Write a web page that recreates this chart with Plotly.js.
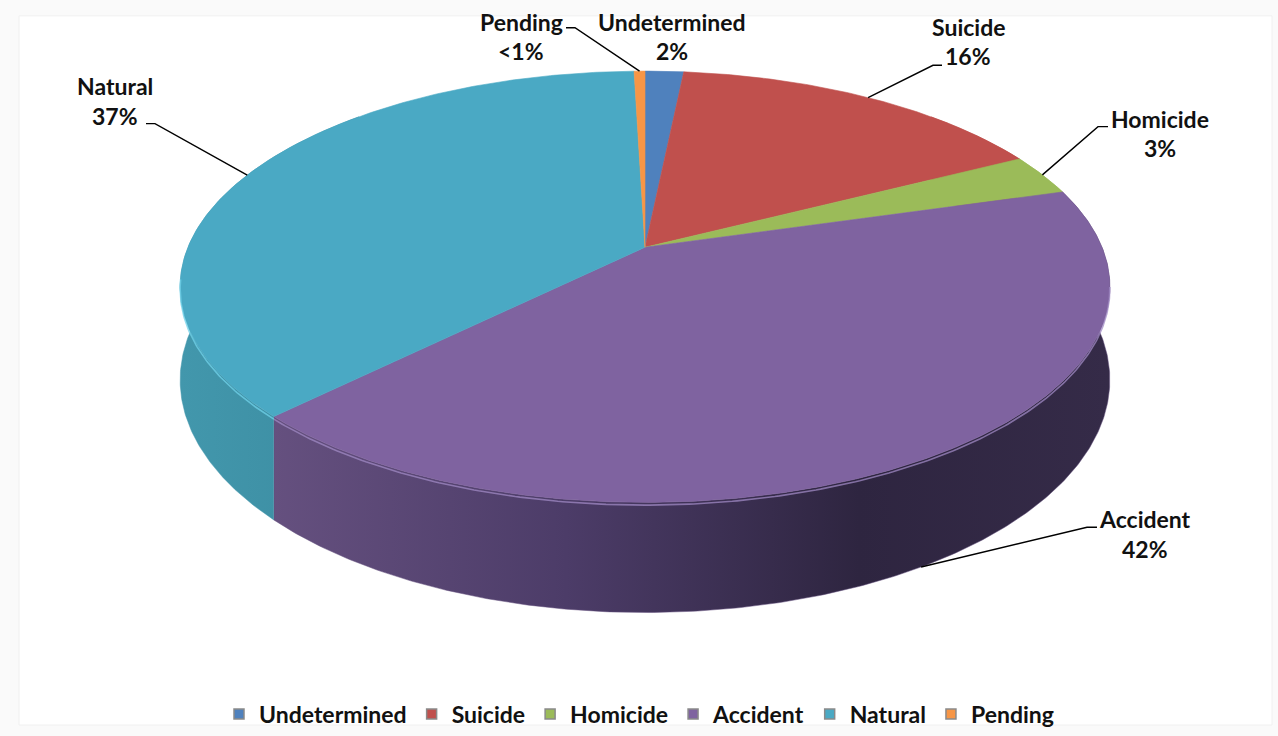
<!DOCTYPE html>
<html>
<head>
<meta charset="utf-8">
<script src="https://cdn.plot.ly/plotly-3.0.1.min.js"></script>
<style>html,body{margin:0;padding:0;background:#fafafa;}#chart{width:1278px;height:736px;}</style>
</head>
<body>
<div id="chart"></div>
<script>
// ---- data ----
const categories = ['Undetermined', 'Suicide', 'Homicide', 'Accident', 'Natural', 'Pending'];
const values = [1.6, 15.8, 3.1, 42.0, 37.05, 0.45];
const topColors = ['#4f81bd', '#c0504d', '#9bbb59', '#7f63a0', '#4aa9c4', '#f79646'];

// ---- geometry / style (pixel space) ----
const CX = 645, CY = 250, RX = 457, RY = 210.7, K = 0.183, DEPTH = 91;
const sideScales = {
  'Accident': [[0, '#65507f'], [0.35, '#4c3c68'], [0.7, '#2e2540'], [1, '#352b48']],
  'Natural': [[0, '#4297ac'], [1, '#3c8ca1']]
};
const rimColors = {'Accident': '#a08ac4', 'Natural': '#70d2ea'};
const FONT = {family: 'Lato, "Open Sans", sans-serif', size: 23, color: '#111', weight: 'bold'};
// label placement: [centerX, firstLineY, leaderStartX, leaderKneeX, leaderY] (null = no leader)
const labelPlace = {
  'Undetermined': [672, 22, null, null, null],
  'Suicide': [968, 27, 942, 933, 66],
  'Homicide': [1160, 120, 1108, 1098, 128],
  'Accident': [1145, 525, 1097, 1087, 533],
  'Natural': [115, 87, 146, 155, 125],
  'Pending': [521, 22, 566, 575, 28]
};

function pt(thetaDeg, z) {
  const t = thetaDeg * Math.PI / 180;
  const u = Math.sin(t), v = -Math.cos(t);
  const f = 1 / (1 - K * v);
  return [CX + RX * u * f, CY + (RY * v + z * DEPTH) * f];
}
function arc(a, b, z) {
  const xs = [], ys = [];
  const n = Math.max(2, Math.ceil(Math.abs(b - a) / 0.5));
  for (let i = 0; i <= n; i++) {
    const p = pt(a + (b - a) * i / n, z);
    xs.push(p[0]); ys.push(p[1]);
  }
  return [xs, ys];
}

const total = values.reduce((s, v) => s + v, 0);
const starts = [], ends = [];
let acc = 0;
values.forEach(v => { starts.push(acc / total * 360); acc += v; ends.push(acc / total * 360); });

const traces = [];
// side faces (front half)
categories.forEach((c, i) => {
  const a = Math.max(starts[i], 45), b = Math.min(ends[i], 315);
  if (b <= a) return;
  const top = arc(a, b, 0), bot = arc(b, a, 1);
  const tr = {
    x: top[0].concat(bot[0]), y: top[1].concat(bot[1]),
    mode: 'lines', fill: 'toself', line: {width: 0.5, color: sideScales[c] ? sideScales[c][0][1] : topColors[i]},
    fillcolor: sideScales[c] ? sideScales[c][0][1] : topColors[i],
    showlegend: false, hoverinfo: 'skip'
  };
  if (sideScales[c]) tr.fillgradient = {type: 'horizontal', colorscale: sideScales[c]};
  traces.push(tr);
});
// top faces
categories.forEach((c, i) => {
  const r = arc(starts[i], ends[i], 0);
  traces.push({
    x: [CX].concat(r[0], [CX]), y: [CY].concat(r[1], [CY]),
    mode: 'lines', fill: 'toself', fillcolor: topColors[i],
    line: {width: 0.6, color: topColors[i]}, showlegend: false, hoverinfo: 'skip'
  });
});
// bevel highlight along front rim
categories.forEach((c, i) => {
  const a = Math.max(starts[i], 100), b = Math.min(ends[i], 262);
  if (b <= a || !rimColors[c]) return;
  const r = arc(a, b, 0.025);
  traces.push({x: r[0], y: r[1], mode: 'lines', line: {width: 1.6, color: rimColors[c]},
    opacity: 0.75, showlegend: false, hoverinfo: 'skip'});
});
// leader lines + labels
const annotations = [];
categories.forEach((c, i) => {
  const pl = labelPlace[c];
  const pct = values[i] / total * 100;
  const txt = pct < 1 ? '<1%' : Math.round(pct) + '%';
  annotations.push({x: pl[0], y: pl[1], xref: 'x', yref: 'y', text: c, showarrow: false,
    font: FONT, xanchor: 'center', yanchor: 'middle'});
  annotations.push({x: pl[0], y: pl[1] + 30, xref: 'x', yref: 'y', text: txt.replace('<', '&lt;'), showarrow: false,
    font: FONT, xanchor: 'center', yanchor: 'middle'});
  if (pl[2] !== null) {
    const mid = (starts[i] + ends[i]) / 2;
    const front = mid > 90 && mid < 270;
    const p = pt(mid, front ? 1 : 0);
    traces.push({x: [pl[2], pl[3], p[0]], y: [pl[4], pl[4], p[1]], mode: 'lines',
      line: {color: '#000', width: 1.4}, showlegend: false, hoverinfo: 'skip'});
  }
});
// legend entries
categories.forEach((c, i) => {
  traces.push({x: [null], y: [null], mode: 'markers', name: c,
    marker: {symbol: 'square', size: 10, color: topColors[i], line: {color: '#8a8a8a', width: 1.5}},
    hoverinfo: 'skip'});
});

const layout = {
  width: 1278, height: 736,
  margin: {l: 0, r: 0, t: 0, b: 0},
  paper_bgcolor: '#fafafa', plot_bgcolor: 'rgba(0,0,0,0)',
  xaxis: {range: [0, 1278], visible: false, fixedrange: true},
  yaxis: {range: [736, 0], visible: false, fixedrange: true},
  showlegend: true,
  legend: {orientation: 'h', x: 0.5, xanchor: 'center', y: 1 - 722 / 736, yanchor: 'middle',
    font: FONT, itemwidth: 30, bgcolor: 'rgba(0,0,0,0)', tracegroupgap: 0},
  shapes: [{type: 'rect', xref: 'x', yref: 'y', x0: 19, x1: 1272, y0: 16, y1: 733,
    fillcolor: '#ffffff', line: {color: '#f0f0f0', width: 1}, layer: 'below'}],
  annotations: annotations
};
Plotly.newPlot('chart', traces, layout, {displayModeBar: false, staticPlot: true});
</script>
</body>
</html>
